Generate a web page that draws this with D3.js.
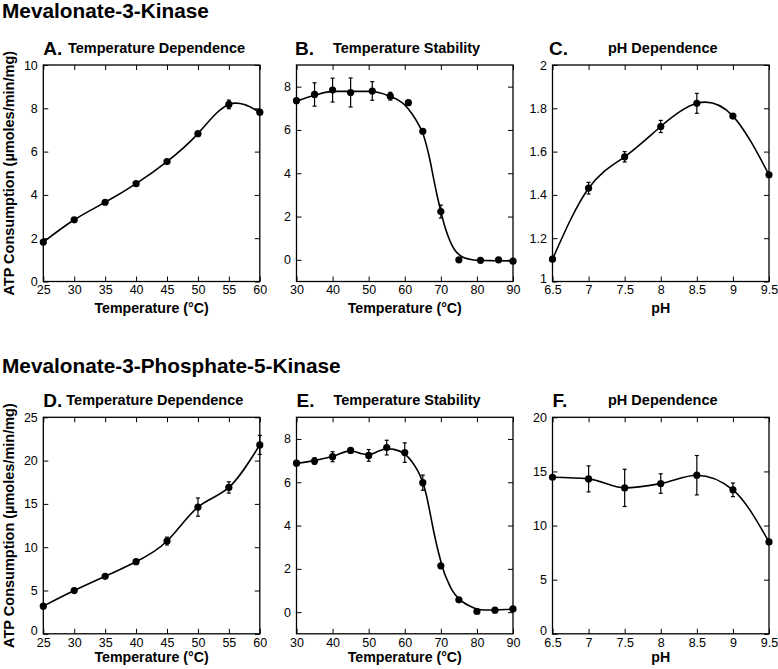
<!DOCTYPE html>
<html><head><meta charset="utf-8">
<script src="https://cdn.jsdelivr.net/npm/d3@7"></script>
<style>
body{margin:0;background:#fff}
svg{display:block}
text{font-family:"Liberation Sans",Arial,Helvetica,sans-serif;fill:#000}
</style>
</head><body>
<svg id="chart" width="778" height="669"></svg>
<script>
// ---------------- DATA ----------------
const groupTitles = ["Mevalonate-3-Kinase", "Mevalonate-3-Phosphate-5-Kinase"];
const yAxisTitle = "ATP Consumption (\u00B5moles/min/mg)";

// A. M3K temperature dependence
const tempA = [25, 30, 35, 40, 45, 50, 55, 60];
const actA  = [1.82, 2.85, 3.66, 4.52, 5.54, 6.83, 8.18, 7.82];
const errA  = [0.05, 0.05, 0.05, 0.05, 0.05, 0.06, 0.2, 0.06];

// B. M3K temperature stability
const tempB = [30, 35, 40, 45, 51, 56, 61, 65, 70, 75, 81, 86, 90];
const actB  = [7.35, 7.64, 7.84, 7.73, 7.8, 7.56, 7.26, 5.94, 2.23, 0.0, -0.02, 0.0, -0.06];
const errB  = [0.05, 0.54, 0.55, 0.67, 0.43, 0.18, 0.05, 0.05, 0.3, 0.03, 0.03, 0.03, 0.03];
const fitXB = [30, 35, 40, 45, 50, 53, 56, 58, 60, 62, 64, 65, 66, 67, 68, 69, 70, 71, 72, 73, 74, 75, 76, 78, 80, 85, 90];
const fitYB = [7.33, 7.6, 7.78, 7.78, 7.78, 7.72, 7.55, 7.4, 7.15, 6.75, 6.2, 5.85, 5.3, 4.6, 3.75, 2.95, 2.25, 1.6, 1.1, 0.7, 0.42, 0.25, 0.13, 0.03, -0.02, -0.04, -0.05];

// C. M3K pH dependence
const phC  = [6.5, 7, 7.5, 8, 8.5, 9, 9.5];
const actC = [1.103, 1.431, 1.576, 1.716, 1.823, 1.764, 1.493];
const errC = [0.005, 0.027, 0.024, 0.028, 0.046, 0.006, 0.005];

// D. M3P5K temperature dependence
const tempD = [25, 30, 35, 40, 45, 50, 55, 60];
const actD  = [3.19, 4.99, 6.64, 8.33, 10.71, 14.63, 16.9, 21.81];
const errD  = [0.1, 0.1, 0.1, 0.1, 0.45, 1.05, 0.65, 1.1];

// E. M3P5K temperature stability
const tempE = [30, 35, 40, 45, 50, 55, 60, 65, 70, 75, 80, 85, 90];
const actE  = [6.88, 6.98, 7.18, 7.47, 7.24, 7.6, 7.37, 5.98, 2.14, 0.57, 0.03, 0.09, 0.15];
const errE  = [0.1, 0.15, 0.23, 0.05, 0.27, 0.34, 0.45, 0.35, 0.05, 0.05, 0.03, 0.03, 0.03];
const fitXE = [30, 35, 40, 45, 48, 50, 53, 55, 57, 60, 61, 62, 63, 64, 65, 66, 67, 68, 69, 70, 71, 72, 73, 74, 75, 76, 78, 80, 82, 85, 88, 90];
const fitYE = [6.88, 7.0, 7.2, 7.45, 7.32, 7.28, 7.45, 7.55, 7.52, 7.3, 7.15, 6.95, 6.7, 6.4, 6.0, 5.4, 4.6, 3.75, 3.0, 2.35, 1.8, 1.4, 1.05, 0.8, 0.62, 0.48, 0.28, 0.15, 0.1, 0.1, 0.12, 0.15];

// F. M3P5K pH dependence
const phF  = [6.5, 7, 7.5, 8, 8.5, 9, 9.5];
const actF = [14.46, 14.31, 13.48, 13.88, 14.65, 13.3, 8.49];
const errF = [0.1, 1.2, 1.72, 0.9, 1.82, 0.63, 0.1];

// tick values
const tempTicksDep  = [25, 30, 35, 40, 45, 50, 55, 60];
const tempTicksStab = [30, 40, 50, 60, 70, 80, 90];
const phTicks       = [6.5, 7, 7.5, 8, 8.5, 9, 9.5];
const yTicksA = [0, 2, 4, 6, 8, 10];
const yTicksB = [0, 2, 4, 6, 8];
const yTicksC = [1, 1.2, 1.4, 1.6, 1.8, 2];
const yTicksD = [0, 5, 10, 15, 20, 25];
const yTicksF = [0, 5, 10, 15, 20];

// ---------------- LAYOUT ----------------
const colLeft = [43.3, 296.5, 552.5];
const rowTop = [65, 417.3];
const xTitleOffset = [31.5, 28.5];
const PW = 216.5, PH = 216.5;

const panels = [
  {letter:"A.", sub:"Temperature Dependence", x:tempA, y:actA, e:errA, xDom:[25,60], yDom:[0,10], xT:tempTicksDep, yT:yTicksA, xLab:"Temperature (\u00B0C)", curve:d3.curveNatural, col:0, row:0, subDx:24.7, letDx:0, lowLift:0},
  {letter:"B.", sub:"Temperature Stability", x:tempB, y:actB, e:errB, fx:fitXB, fy:fitYB, xDom:[30,90], yDom:[-1,9], xT:tempTicksStab, yT:yTicksB, xLab:"Temperature (\u00B0C)", curve:d3.curveMonotoneX, col:1, row:0, subDx:36.5, letDx:-1.5, lowLift:0},
  {letter:"C.", sub:"pH Dependence", x:phC, y:actC, e:errC, xDom:[6.5,9.5], yDom:[1,2], xT:phTicks, yT:yTicksC, xLab:"pH", curve:d3.curveNatural, col:2, row:0, subDx:55.5, letDx:-3.5, lowLift:3.5},
  {letter:"D.", sub:"Temperature Dependence", x:tempD, y:actD, e:errD, xDom:[25,60], yDom:[0,25], xT:tempTicksDep, yT:yTicksD, xLab:"Temperature (\u00B0C)", curve:d3.curveNatural, col:0, row:1, subDx:23.0, letDx:0, lowLift:3},
  {letter:"E.", sub:"Temperature Stability", x:tempE, y:actE, e:errE, fx:fitXE, fy:fitYE, xDom:[30,90], yDom:[-1,9], xT:tempTicksStab, yT:yTicksB, xLab:"Temperature (\u00B0C)", curve:d3.curveMonotoneX, col:1, row:1, subDx:37, letDx:0, lowLift:0},
  {letter:"F.", sub:"pH Dependence", x:phF, y:actF, e:errF, xDom:[6.5,9.5], yDom:[0,20], xT:phTicks, yT:yTicksF, xLab:"pH", curve:d3.curveMonotoneX, col:2, row:1, subDx:55.5, letDx:0, lowLift:3.5}
];

const svg = d3.select("#chart");

// group titles
svg.append("text").attr("x", 2).attr("y", 18).attr("font-size", 20.8).attr("font-weight", "bold").text(groupTitles[0]);
svg.append("text").attr("x", 2).attr("y", 372.5).attr("font-size", 20.8).attr("font-weight", "bold").text(groupTitles[1]);

const fmt = d => String(d);

panels.forEach(p => {
  const L = colLeft[p.col], T = rowTop[p.row];
  const xs = d3.scaleLinear().domain(p.xDom).range([0, PW]);
  const ys = d3.scaleLinear().domain(p.yDom).range([PH, 0]);
  const g = svg.append("g").attr("transform", `translate(${L},${T})`);

  // axes (ticks pointing inward on all four sides)
  const styleAxis = sel => {
    sel.select(".domain").remove();
    sel.selectAll(".tick line").attr("stroke", "#000").attr("stroke-width", 1);
    sel.selectAll("text").attr("font-size", 12.5).attr("font-family", '"Liberation Sans",Arial,sans-serif').attr("fill", "#000");
  };
  g.append("g").attr("transform", `translate(0,${PH})`)
    .call(d3.axisBottom(xs).tickValues(p.xT).tickFormat(fmt).tickSize(-5).tickPadding(4)).call(styleAxis);
  g.append("g")
    .call(d3.axisTop(xs).tickValues(p.xT).tickFormat("").tickSize(-5)).call(styleAxis);
  const yAx = g.append("g")
    .call(d3.axisLeft(ys).tickValues(p.yT).tickFormat(fmt).tickSize(-5).tickPadding(5.5)).call(styleAxis);
  // lift the lowest y label a little so it clears the first x label (as in the original)
  yAx.selectAll(".tick text").filter(d => d === p.yT[0]).attr("y", -p.lowLift);
  g.append("g").attr("transform", `translate(${PW},0)`)
    .call(d3.axisRight(ys).tickValues(p.yT).tickFormat("").tickSize(-5)).call(styleAxis);

  // frame
  g.append("rect").attr("x", 0).attr("y", 0).attr("width", PW).attr("height", PH)
    .attr("fill", "none").attr("stroke", "#000").attr("stroke-width", 1.3);

  // curve
  const line = d3.line().x(d => xs(d[0])).y(d => ys(d[1])).curve(p.curve);
  const cx = p.fx || p.x, cy = p.fy || p.y;
  g.append("path").attr("d", line(cx.map((v, i) => [v, cy[i]])))
    .attr("fill", "none").attr("stroke", "#000").attr("stroke-width", 1.6);

  // error bars
  const eb = g.append("g").attr("stroke", "#000").attr("stroke-width", 1.2);
  p.x.forEach((v, i) => {
    const X = xs(v), y1 = ys(p.y[i] + p.e[i]), y2 = ys(p.y[i] - p.e[i]);
    eb.append("line").attr("x1", X).attr("x2", X).attr("y1", y1).attr("y2", y2);
    eb.append("line").attr("x1", X - 2).attr("x2", X + 2).attr("y1", y1).attr("y2", y1);
    eb.append("line").attr("x1", X - 2).attr("x2", X + 2).attr("y1", y2).attr("y2", y2);
  });

  // points
  g.append("g").selectAll("circle").data(p.x.map((v, i) => [v, p.y[i]])).join("circle")
    .attr("cx", d => xs(d[0])).attr("cy", d => ys(d[1])).attr("r", 3.6).attr("fill", "#000");

  // panel letter and subtitle
  svg.append("text").attr("x", L + p.letDx).attr("y", T - 10.5).attr("font-size", 19).attr("font-weight", "bold").text(p.letter);
  svg.append("text").attr("x", L + p.subDx).attr("y", T - 12).attr("font-size", 14.5).attr("font-weight", "bold").text(p.sub);

  // x axis title
  svg.append("text").attr("x", L + PW / 2).attr("y", T + PH + xTitleOffset[p.row]).attr("text-anchor", "middle")
    .attr("font-size", 14.2).attr("font-weight", "bold").text(p.xLab);

  // y axis title (first column only)
  if (p.col === 0) {
    svg.append("text").attr("transform", `translate(14,${T + PH / 2}) rotate(-90)`).attr("text-anchor", "middle")
      .attr("font-size", 14.5).attr("font-weight", "bold").text(yAxisTitle);
  }
});
</script>
</body></html>
